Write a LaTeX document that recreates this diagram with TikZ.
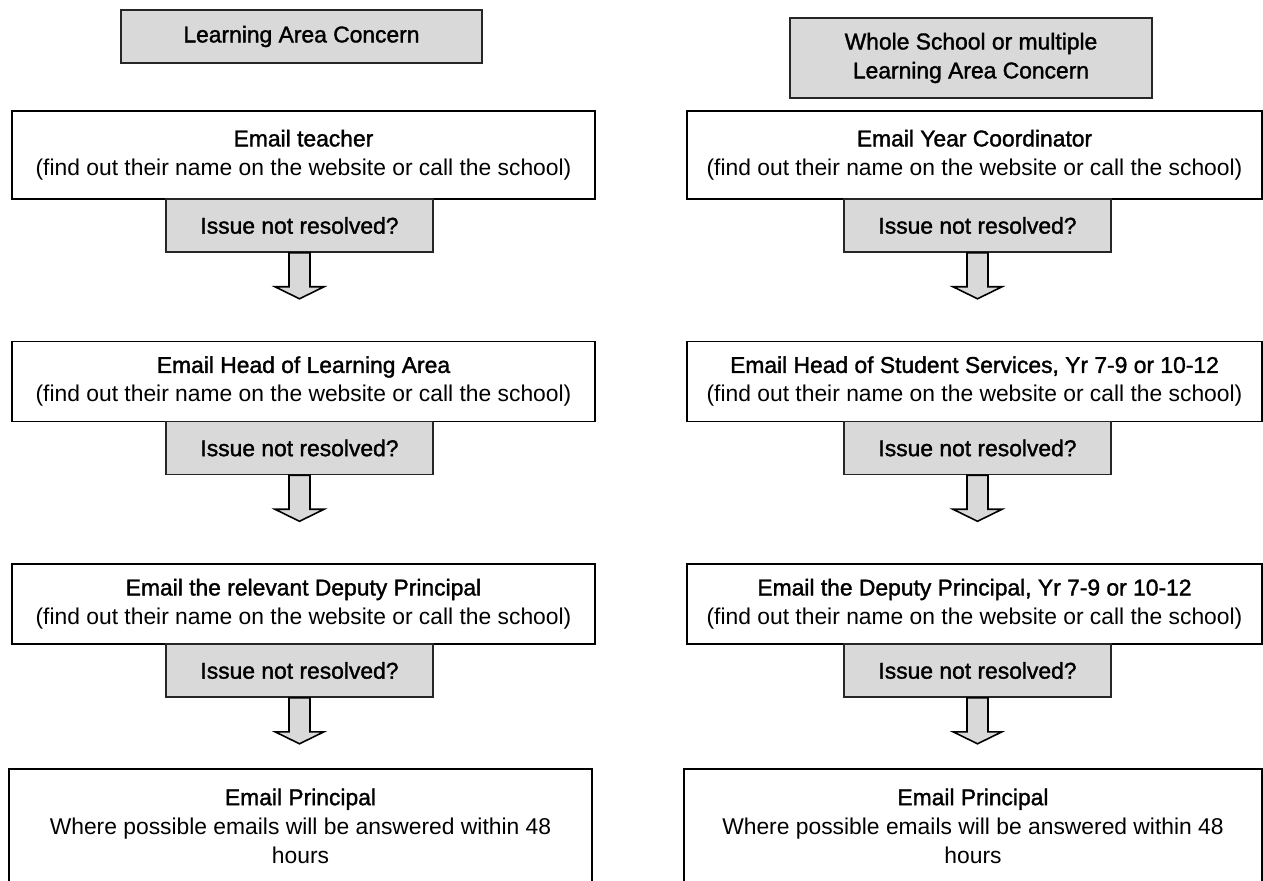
\documentclass[tikz,border=0pt]{standalone}
\usepackage{fontspec}
\setmainfont{Liberation Sans}
\newfontfamily\headfont[FakeBold=1.5]{Liberation Sans}
\definecolor{boxgrey}{HTML}{D9D9D9}
\tikzset{
  greybox/.style={draw=black!85,line width=0.9pt,fill=boxgrey,align=center,inner sep=0pt,font=\headfont},
  mailbox/.style={draw=black,line width=1pt,fill=white,align=center,inner sep=0pt},
  issuebox/.style={greybox,minimum width=5.34cm,minimum height=1.06cm},
  blockarrow/.style={draw=black,line width=0.9pt,fill=boxgrey,line join=miter}
}
\newcommand{\mailtext}[2]{{\headfont #1}\\#2}
\begin{document}
\begin{tikzpicture}[x=0.02cm,y=-0.02cm]
\fontsize{13}{16.5}\selectfont
\useasboundingbox (0,0) rectangle (1263,881);
\clip (0,0) rectangle (1263,881);
% left column
\node[greybox,minimum width=7.22cm,minimum height=1.06cm] (hA) at (301.5,36.5) {Learning Area Concern};
\node[mailbox,minimum width=11.66cm,minimum height=1.76cm] (eA1) at (303.5,155)
  {\mailtext{Email teacher}{(find out their name on the website or call the school)}};
\node[issuebox] (iA1) at (299.5,225.5) {Issue not resolved?};
\node[mailbox,minimum width=11.66cm,minimum height=1.6cm] (eA2) at (303.5,381.5)
  {\mailtext{Email Head of Learning Area}{(find out their name on the website or call the school)}};
\node[issuebox] (iA2) at (299.5,448) {Issue not resolved?};
\node[mailbox,minimum width=11.66cm,minimum height=1.6cm] (eA3) at (303.5,604)
  {\mailtext{Email the relevant Deputy Principal}{(find out their name on the website or call the school)}};
\node[issuebox] (iA3) at (299.5,670.5) {Issue not resolved?};
\node[mailbox,minimum width=11.66cm,minimum height=2.28cm] (pA) at (300.5,826)
  {\mailtext{Email Principal}{Where possible emails will be answered within 48\\hours}};
% right column
\node[greybox,minimum width=7.24cm,minimum height=1.6cm] (hB) at (971,58) {Whole School or multiple\\Learning Area Concern};
\node[mailbox,minimum width=11.5cm,minimum height=1.76cm] (eB1) at (974.5,155)
  {\mailtext{Email Year Coordinator}{(find out their name on the website or call the school)}};
\node[issuebox] (iB1) at (977.5,225.5) {Issue not resolved?};
\node[mailbox,minimum width=11.5cm,minimum height=1.6cm] (eB2) at (974.5,381.5)
  {\mailtext{Email Head of Student Services, Yr 7-9 or 10-12}{(find out their name on the website or call the school)}};
\node[issuebox] (iB2) at (977.5,448) {Issue not resolved?};
\node[mailbox,minimum width=11.5cm,minimum height=1.6cm] (eB3) at (974.5,604)
  {\mailtext{Email the Deputy Principal, Yr 7-9 or 10-12}{(find out their name on the website or call the school)}};
\node[issuebox] (iB3) at (977.5,670.5) {Issue not resolved?};
\node[mailbox,minimum width=11.56cm,minimum height=2.28cm] (pB) at (973,826)
  {\mailtext{Email Principal}{Where possible emails will be answered within 48\\hours}};
% hollow arrows under each question
\foreach \i in {iA1,iA2,iA3,iB1,iB2,iB3}{
  \draw[blockarrow] ([xshift=-0.21cm]\i.south) -- ++(0,34) -- ++(-14,0) -- ++(24.5,12)
    -- ++(24.5,-12) -- ++(-14,0) -- ++(0,-34) -- cycle;}
\end{tikzpicture}
\end{document}
